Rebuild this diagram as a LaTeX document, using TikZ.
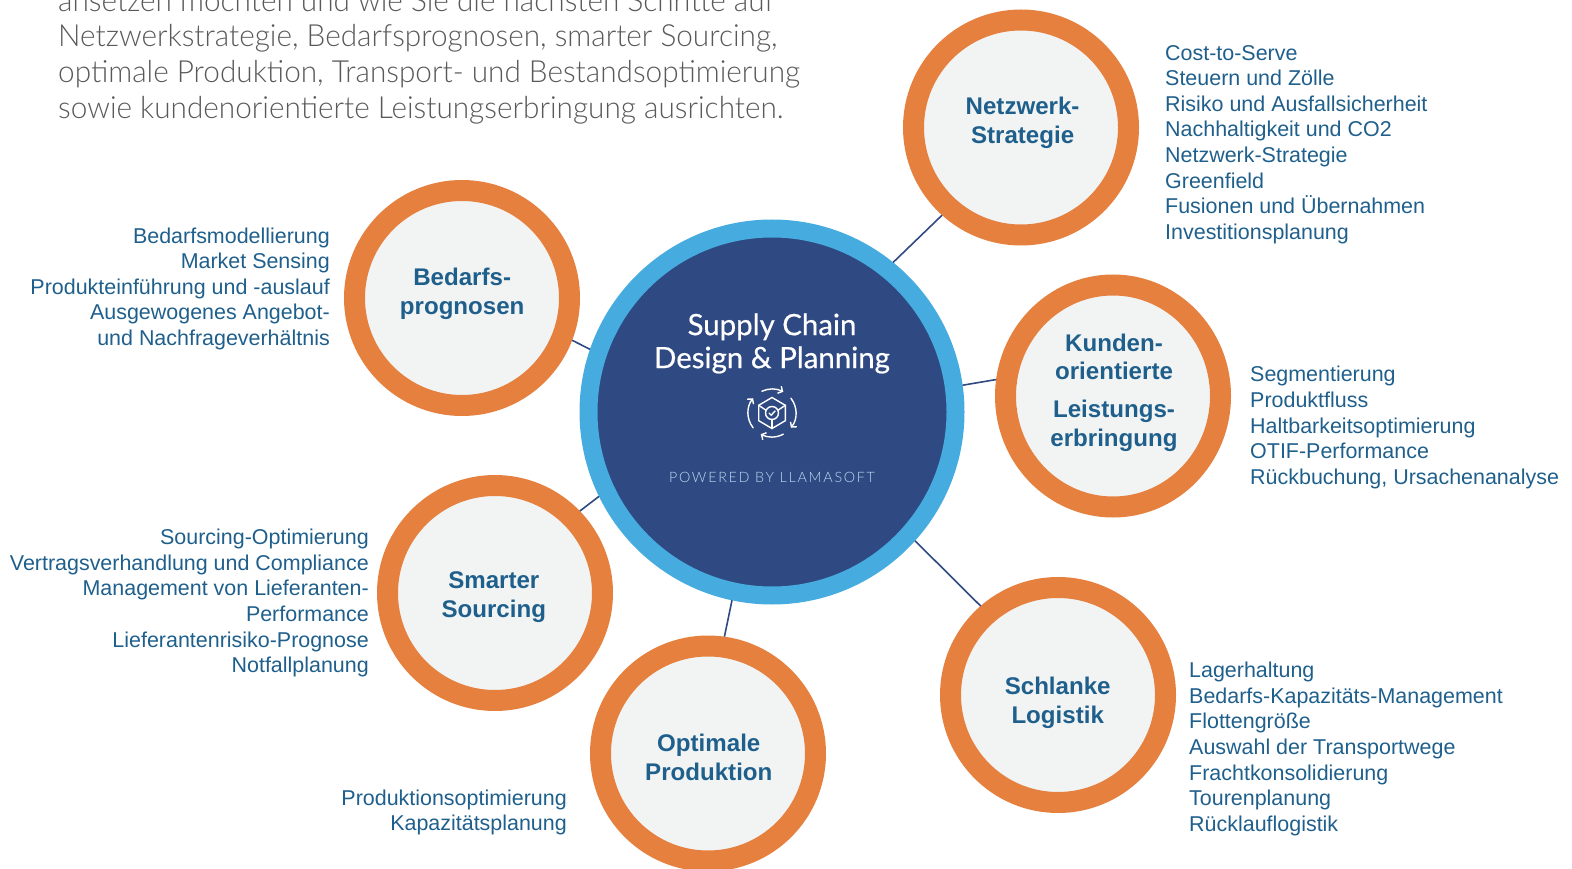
\documentclass[tikz,border=0pt]{standalone}
\usepackage{fontspec}
\usepackage{xcolor}
\usetikzlibrary{shapes.geometric, arrows.meta}
\setmainfont{Liberation Sans}
\newfontfamily\introfont[FakeStretch=0.975]{Lato Light}
\newfontfamily\hubfont[FakeBold=0.5]{Lato}
\newfontfamily\footfont[LetterSpace=12]{Lato Light}
\definecolor{ringorange}{RGB}{230, 128, 63}
\definecolor{ringfill}{RGB}{242, 244, 244}
\definecolor{hubblue}{RGB}{47, 74, 130}
\definecolor{hubring}{RGB}{70, 172, 224}
\definecolor{listblue}{RGB}{31, 95, 140}
\definecolor{introgray}{RGB}{89, 89, 89}
\definecolor{footblue}{RGB}{185, 218, 242}
\tikzset{
  topic/.style={circle, draw=ringorange, fill=ringfill, line width=21pt, minimum size=215pt, inner sep=0pt},
  topiclabel/.style={inner sep=0pt, align=center, text=listblue, font=\fontsize{24.1}{28.7}\selectfont\bfseries},
  toplist/.style={text=listblue, inner sep=0pt, font=\fontsize{21.45}{25.6}\selectfont},
  listleft/.style={toplist, anchor=west, align=left},
  listright/.style={toplist, anchor=east, align=right},
  link/.style={draw=hubblue, line width=1.6pt},
}

\begin{document}
\begin{tikzpicture}[x=1pt, y=-1pt]
\useasboundingbox (0,0) rectangle (1572,869);

% Nodes
\node[circle, draw=hubring, fill=hubblue, line width=18pt, minimum size=367pt, inner sep=0pt] (hub) at (772,412) {};
\node[topic] (netz) at (1021,127.5) {};
\node[topic, ellipse, minimum width=215pt, minimum height=222pt] (kunden) at (1113,396) {};
\node[topic] (logistik) at (1058,695) {};
\node[topic] (prod) at (708,753.5) {};
\node[topic] (sourcing) at (495,593) {};
\node[topic] (bedarf) at (462,298) {};

% Edges
\draw[link] (hub.51) -- (netz.228);
\draw[link] (hub.8.7) -- (kunden.172.3);
\draw[link] (hub.-42.4) -- (logistik.131);
\draw[link] (hub.258) -- (prod.82.3);
\draw[link] (hub.206.2) -- (sourcing.44.7);
\draw[link] (hub.161) -- (bedarf.-21.5);

% Topic labels
\node[topiclabel] (netzlabel) at (1022.6,122.8) {Netzwerk-\\Strategie};
\node[topiclabel] (kundenlabel) at (1114,392.5) {Kunden-\\orientierte\\[9pt]Leistungs-\\erbringung};
\node[topiclabel] (logistiklabel) at (1057.7,702.8) {Schlanke\\Logistik};
\node[topiclabel] (prodlabel) at (708.8,757.5) {Optimale\\Produktion};
\node[topiclabel] (sourcinglabel) at (493.8,597) {Smarter\\Sourcing};
\node[topiclabel] (bedarflabel) at (462.2,294) {Bedarfs-\\prognosen};

% Hub labels
\node[text=white, align=center, inner sep=0pt, font=\hubfont\fontsize{29.4}{33}\selectfont] (hubtitle) at (772,343.5) {Supply Chain\\Design \& Planning};
\node[text=footblue, inner sep=0pt, font=\footfont\fontsize{14.3}{17}\selectfont] (hubfoot) at (772,477) {POWERED BY LLAMASOFT};

% Hub icon
\begin{scope}[shift={(772,413)}, x=1pt, y=1pt, draw=white, line width=1.4pt, line cap=round]
\draw[-{Straight Barb[length=3.5pt, width=8pt]}] (115:24pt) arc (115:62:24pt);
\draw[-{Straight Barb[length=3.5pt, width=8pt]}] (38:24pt) arc (38:-38:24pt);
\draw[-{Straight Barb[length=3.5pt, width=8pt]}] (-62:24pt) arc (-62:-118:24pt);
\draw[-{Straight Barb[length=3.5pt, width=8pt]}] (-142:24pt) arc (-142:-218:24pt);
\draw (0,15.5) -- (13.3,7.7) -- (13.3,-7.7) -- (0,-15.5) -- (-13.3,-7.7) -- (-13.3,7.7) -- cycle;
\draw (-13.3,7.7) -- (-6,2.8);
\draw (13.3,7.7) -- (6,2.8);
\draw (0,-15.5) -- (0,-6.5);
\draw (0,0) circle (6.5pt);
\draw (-3,0) -- (-0.8,-2.2) -- (3,2);
\end{scope}

% Lists
\node[listleft] (netzlist) at (1165,144.4) {Cost-to-Serve\\Steuern und Zölle\\Risiko und Ausfallsicherheit\\Nachhaltigkeit und CO2\\Netzwerk-Strategie\\Greenfield\\Fusionen und Übernahmen\\Investitionsplanung};
\node[listleft] (kundenlist) at (1250,427.6) {Segmentierung\\Produktfluss\\Haltbarkeitsoptimierung\\OTIF-Performance\\Rückbuchung, Ursachenanalyse};
\node[listleft] (logistiklist) at (1189,749) {Lagerhaltung\\Bedarfs-Kapazitäts-Management\\Flottengröße\\Auswahl der Transportwege\\Frachtkonsolidierung\\Tourenplanung\\Rücklauflogistik};
\node[listright] (prodlist) at (567,812.6) {Produktionsoptimierung\\Kapazitätsplanung};
\node[listright] (sourcinglist) at (369,603.2) {Sourcing-Optimierung\\Vertragsverhandlung und Compliance\\Management von Lieferanten-\\Performance\\Lieferantenrisiko-Prognose\\Notfallplanung};
\node[listright] (bedarflist) at (330,288.7) {Bedarfsmodellierung\\Market Sensing\\Produkteinführung und -auslauf\\Ausgewogenes Angebot-\\und Nachfrageverhältnis};

% Intro text
\node[anchor=west, align=left, inner sep=0pt, text=introgray, font=\introfont\fontsize{30.5}{35.7}\selectfont] (intro) at (58,56.5) {ansetzen möchten und wie Sie die nächsten Schritte auf\\Netzwerkstrategie, Bedarfsprognosen, smarter Sourcing,\\optimale Produktion, Transport- und Bestandsoptimierung\\sowie kundenorientierte Leistungserbringung ausrichten.};
\end{tikzpicture}
\end{document}
